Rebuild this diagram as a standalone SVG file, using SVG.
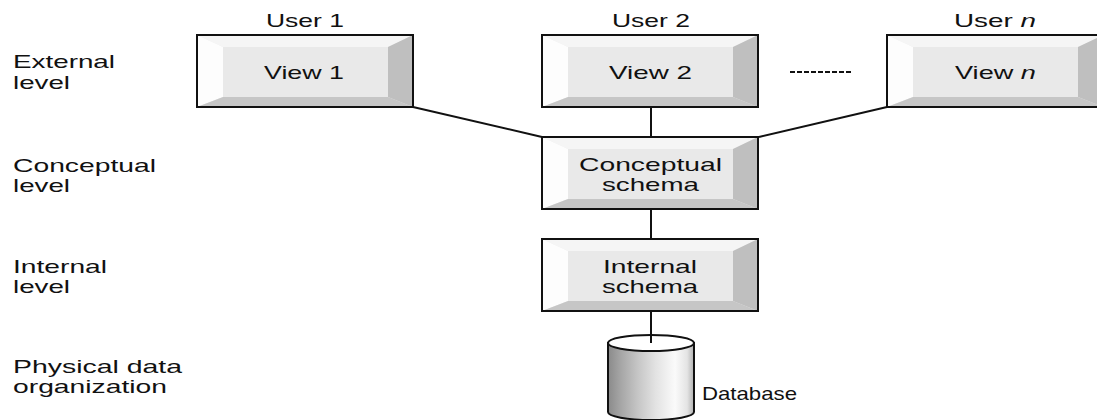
<svg xmlns="http://www.w3.org/2000/svg" width="1097" height="420" viewBox="0 0 1097 420">
<style>
text{font-family:"Liberation Sans",Arial,sans-serif;font-size:19px;fill:#111}
.c{text-anchor:middle}
.conn line{stroke:#111;stroke-width:2}
</style>
<defs>
<g id="bevel">
<rect x="0" y="0" width="216" height="72" fill="#e9e9e9"/>
<polygon points="0,0 216,0 191,12 26,12" fill="#f5f5f5"/>
<polygon points="0,0 26,12 26,62 0,72" fill="#fdfdfd"/>
<polygon points="216,0 216,72 191,62 191,12" fill="#bfbfbf"/>
<polygon points="0,72 216,72 191,62 26,62" fill="#c6c6c6"/>
<rect x="0" y="0" width="216" height="72" fill="none" stroke="#111" stroke-width="2"/>
</g>
<linearGradient id="cyl" x1="0" y1="0" x2="1" y2="0">
<stop offset="0" stop-color="#8a8a8a"/>
<stop offset="0.15" stop-color="#a6a6a6"/>
<stop offset="0.35" stop-color="#c6c6c6"/>
<stop offset="0.55" stop-color="#e2e2e2"/>
<stop offset="0.78" stop-color="#fafafa"/>
<stop offset="0.92" stop-color="#e4e4e4"/>
<stop offset="1" stop-color="#b0b0b0"/>
</linearGradient>
</defs>

<g id="labels">
<text x="13" y="68" textLength="102" lengthAdjust="spacingAndGlyphs">External</text>
<text x="13" y="89" textLength="57" lengthAdjust="spacingAndGlyphs">level</text>
<text x="13" y="172" textLength="143" lengthAdjust="spacingAndGlyphs">Conceptual</text>
<text x="13" y="192" textLength="57" lengthAdjust="spacingAndGlyphs">level</text>
<text x="13" y="273" textLength="94" lengthAdjust="spacingAndGlyphs">Internal</text>
<text x="13" y="293" textLength="57" lengthAdjust="spacingAndGlyphs">level</text>
<text x="13" y="373" textLength="169" lengthAdjust="spacingAndGlyphs">Physical data</text>
<text x="13" y="393" textLength="154" lengthAdjust="spacingAndGlyphs">organization</text>
</g>

<g id="users">
<text x="266" y="27" textLength="78" lengthAdjust="spacingAndGlyphs">User 1</text>
<text x="612" y="27" textLength="78" lengthAdjust="spacingAndGlyphs">User 2</text>
<text x="954" y="27" textLength="82" lengthAdjust="spacingAndGlyphs">User <tspan font-style="italic">n</tspan></text>
</g>

<g class="conn" id="connectors">
<line x1="413" y1="107" x2="542" y2="137"/>
<line x1="887" y1="107" x2="759" y2="137"/>
<line x1="651" y1="107" x2="651" y2="137"/>
<line x1="651" y1="209" x2="651" y2="238"/>
<line x1="651" y1="310" x2="651" y2="343"/>
<line x1="790" y1="72" x2="853" y2="72" stroke-width="1.5" stroke-dasharray="5 2"/>
</g>

<g id="view1">
<use href="#bevel" transform="translate(197,35)"/>
<text x="264" y="79" textLength="80" lengthAdjust="spacingAndGlyphs">View 1</text>
</g>
<g id="view2">
<use href="#bevel" transform="translate(542,35)"/>
<text x="609" y="79" textLength="83" lengthAdjust="spacingAndGlyphs">View 2</text>
</g>
<g id="viewn">
<use href="#bevel" transform="translate(887,35)"/>
<text x="955" y="79" textLength="81" lengthAdjust="spacingAndGlyphs">View <tspan font-style="italic">n</tspan></text>
</g>
<g id="conceptual">
<use href="#bevel" transform="translate(542,137)"/>
<text x="579" y="171" textLength="143" lengthAdjust="spacingAndGlyphs">Conceptual</text>
<text x="602" y="191" textLength="97" lengthAdjust="spacingAndGlyphs">schema</text>
</g>
<g id="internal">
<use href="#bevel" transform="translate(542,239)"/>
<text x="603" y="273" textLength="94" lengthAdjust="spacingAndGlyphs">Internal</text>
<text x="602" y="293" textLength="96" lengthAdjust="spacingAndGlyphs">schema</text>
</g>
<g id="database">
<path d="M608,343 L608,412 A43,8 0 0 0 694,412 L694,343 Z" fill="url(#cyl)" stroke="#111" stroke-width="2"/>
<ellipse cx="651" cy="343" rx="43" ry="8" fill="#ffffff" stroke="#111" stroke-width="2"/>
<line x1="651" y1="335" x2="651" y2="343" stroke="#111" stroke-width="2"/>
<text x="702" y="400" textLength="95" lengthAdjust="spacingAndGlyphs">Database</text>
</g>
</svg>
